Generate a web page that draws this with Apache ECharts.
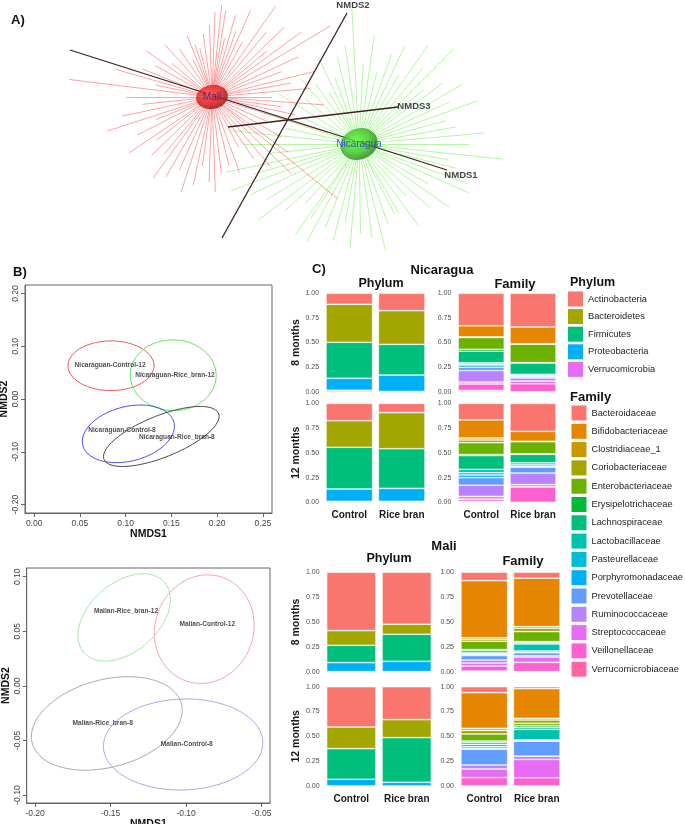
<!DOCTYPE html>
<html><head><meta charset="utf-8">
<script src="https://cdn.jsdelivr.net/npm/echarts@6/dist/echarts.min.js"></script>
<style>html,body{margin:0;padding:0;background:#fff}#c{width:685px;height:824px}</style>
</head><body><div id="c"></div>
<script>
// ================= DATA =================
// Panel A: 3D NMDS star plot (projected coordinates; spokes = [angle deg, length x100])
const maliCenter = [-1.305, 0.28];
const nicCenter = [0.165, -0.19];
const maliSpokes = [[173,144],[180,86],[192,92],[207,84],[224,84],[240,92],[252,100],[277,77],[298,57],[321,161],[324,94],[343,121],[81,88],[74,85],[61,63],[44,100],[31,138],[20,74],[5,98],[356,112],[117,42],[151,65],[108,55],
 [0,60],[10,80],[14,105],[25,95],[36,110],[40,72],[50,85],[55,110],[66,95],[70,70],[78,60],[84,92],[88,85],[92,72],[98,64],[104,50],[112,66],[124,58],[132,70],[140,52],[145,80],[158,75],[164,100],[168,58],[186,70],[198,110],[202,60],[214,100],[218,70],[230,75],[234,100],[246,80],[258,90],[262,70],[268,85],[272,95],[284,70],[290,80],[304,75],[310,90],[316,110],[330,80],[336,60],[348,85],[352,70]];
const nicSpokes = [[93,136],[104,90],[76,74],[65,107],[45,135],[36,104],[20,126],[10,99],[354,145],[340,116],[300,80],[271,89],[265,104],[235,111],[217,127],[200,136],[192,136],[174,129],[126,74],[237,89],[297,78],[211,109],
 [0,110],[5,125],[15,90],[25,100],[30,120],[40,85],[50,100],[55,120],[60,80],[70,95],[82,110],[87,80],[98,100],[110,70],[115,95],[120,60],[132,88],[140,70],[148,95],[155,60],[162,100],[168,75],[180,115],[186,90],[196,110],[205,120],[222,100],[228,80],[242,110],[248,90],[255,100],[260,80],[278,95],[284,110],[290,85],[306,100],[312,70],[318,95],[325,110],[330,80],[336,120],[346,100],[350,90]];
const nmdsAxisNames = ['NMDS1','NMDS2','NMDS3'];
const nmdsAxisFrom = [[-2.725,0.75],[-1.205,-1.13],[-1.145,-0.02]];
const nmdsAxisTo = [[1.045,-0.45],[0.045,1.12],[0.555,0.18]];
const nmdsLabelPos = [[1.185,-0.50],[0.105,1.20],[0.715,0.19]];

// Panel B: ordination ellipses [cx, cy], conjugate semi-axes u, v
const nicEllNames = ['Nicaraguan-Control-12','Nicaraguan-Rice_bran-12','Nicaraguan-Control-8','Nicaraguan-Rice_bran-8'];
const nicEllCenter = [[0.084,0.063],[0.152,0.045],[0.103,-0.066],[0.139,-0.071]];
const nicEllU = [[0.047,0],[0.047,-0.002],[0.050,0.008],[0.060,0.023]];
const nicEllV = [[0,0.047],[0.001,0.067],[0.006,0.054],[0.020,0.052]];
const nicLabelPos = [[0.083,0.065],[0.154,0.046],[0.096,-0.060],[0.156,-0.073]];
const maliEllNames = ['Malian-Rice_bran-12','Malian-Control-12','Malian-Rice_bran-8','Malian-Control-8'];
const maliEllCenter = [[-0.141,0.0627],[-0.088,0.052],[-0.1525,-0.0344],[-0.102,-0.0537]];
const maliEllU = [[0.030,0.009],[0.033,0.002],[0.0497,0.0084],[0.0527,0]];
const maliEllV = [[0.006,0.039],[0.001,0.0497],[0.0045,0.042],[0.002,0.0417]];
const maliLabelPos = [[-0.1398,0.068],[-0.086,0.0567],[-0.1552,-0.034],[-0.0996,-0.0533]];
const nicXTicks = [0,0.05,0.10,0.15,0.20,0.25];
const nicYTicks = [-0.2,-0.1,0,0.1,0.2];
const maliXTicks = [-0.20,-0.15,-0.10,-0.05];
const maliYTicks = [-0.10,-0.05,0,0.05,0.10];

// Panel C: relative abundances
const groups = ['Control','Rice bran'];
const fracTicks = [0,0.25,0.5,0.75,1];
const phyla = ['Actinobacteria','Bacteroidetes','Firmicutes','Proteobacteria','Verrucomicrobia'];
const families = ['Bacteroidaceae','Bifidobacteriaceae','Clostridiaceae_1','Coriobacteriaceae','Enterobacteriaceae','Erysipelotrichaceae','Lachnospiraceae','Lactobacillaceae','Pasteurellaceae','Porphyromonadaceae','Prevotellaceae','Ruminococcaceae','Streptococcaceae','Veillonellaceae','Verrucomicrobiaceae'];
const nicPhy8Control = [0.112,0.386,0.366,0.121,0.015];
const nicPhy8Rice = [0.176,0.343,0.312,0.167,0.002];
const nicPhy12Control = [0.175,0.269,0.421,0.125,0.010];
const nicPhy12Rice = [0.094,0.364,0.401,0.131,0.010];
const maliPhy8Control = [0.587,0.148,0.174,0.091,0.000];
const maliPhy8Rice = [0.523,0.101,0.272,0.104,0.000];
const maliPhy12Control = [0.406,0.218,0.309,0.067,0.000];
const maliPhy12Rice = [0.332,0.181,0.450,0.037,0.000];
const nicFam8Control = [0.330,0.113,0.003,0.003,0.120,0.020,0.117,0.013,0.010,0.023,0.033,0.117,0.020,0.065,0.013];
const nicFam8Rice = [0.342,0.170,0.000,0.005,0.187,0.005,0.115,0.013,0.000,0.010,0.013,0.033,0.027,0.080,0.000];
const nicFam12Control = [0.167,0.183,0.020,0.027,0.120,0.010,0.140,0.033,0.023,0.027,0.077,0.113,0.027,0.023,0.010];
const nicFam12Rice = [0.283,0.100,0.000,0.005,0.122,0.005,0.085,0.017,0.017,0.010,0.060,0.117,0.023,0.156,0.000];
const maliFam8Control = [0.084,0.575,0.015,0.020,0.084,0.010,0.023,0.012,0.005,0.010,0.045,0.030,0.030,0.052,0.005];
const maliFam8Rice = [0.060,0.487,0.017,0.033,0.101,0.010,0.013,0.071,0.013,0.005,0.030,0.013,0.054,0.093,0.000];
const maliFam12Control = [0.060,0.360,0.020,0.037,0.070,0.013,0.021,0.023,0.017,0.010,0.158,0.040,0.087,0.084,0.000];
const maliFam12Rice = [0.020,0.299,0.017,0.033,0.024,0.017,0.020,0.107,0.007,0.005,0.151,0.033,0.185,0.082,0.000];

// ================= STYLE =================
const FF = '"Liberation Sans", Arial, Helvetica, sans-serif';
const phylumColors = ['#F8766D','#A3A500','#00BF7D','#00B0F6','#E76BF3'];
const familyColors = ['#F8766D','#E58700','#C99800','#A3A500','#6BB100','#00BA38','#00BF7D','#00C0AF','#00BCD8','#00B0F6','#619CFF','#B983FF','#E76BF3','#FD61D1','#FF67A4'];
const nicEllColors = ['#f25555','#5fe35f','#4d4df0','#4a4a4a'];
const maliEllColors = ['#a8e6a8','#f4a6a6','#a9a9a9','#a9a9f2'];

// ================= BUILD =================
const grids = [], xAxes = [], yAxes = [], series = [], graphics = [];
function addGrid(g){ grids.push(Object.assign({outerBoundsMode:'none', containLabel:false}, g)); return grids.length-1; }

// ---- Panel A ----
const gA = addGrid({left:0, top:0, width:685, height:250, show:false});
xAxes.push({gridIndex:gA, type:'value', min:-3.425, max:3.425, show:false});
yAxes.push({gridIndex:gA, type:'value', min:-1.25, max:1.25, show:false});
const spokeEnd = (c, s) => { const a = s[0]*Math.PI/180, r = s[1]/100; return [c[0]+r*Math.cos(a), c[1]+r*Math.sin(a)]; };
series.push({type:'lines', coordinateSystem:'cartesian2d', xAxisIndex:gA, yAxisIndex:gA, silent:true, z:2,
  lineStyle:{color:'#6cf04a', width:0.8, opacity:0.65, curveness:0},
  data: nicSpokes.map(s => ({coords:[nicCenter, spokeEnd(nicCenter, s)]}))});
series.push({type:'lines', coordinateSystem:'cartesian2d', xAxisIndex:gA, yAxisIndex:gA, silent:true, z:3,
  lineStyle:{color:'#ff3a3a', width:0.8, opacity:0.6, curveness:0},
  data: maliSpokes.map(s => ({coords:[maliCenter, spokeEnd(maliCenter, s)]}))});
nmdsAxisNames.forEach((n,i) => {
  series.push({type:'line', xAxisIndex:gA, yAxisIndex:gA, showSymbol:false, silent:true, z:4,
    lineStyle:{color:'#3b2222', width:1.3}, data:[nmdsAxisFrom[i], nmdsAxisTo[i]]});
});
series.push({type:'scatter', xAxisIndex:gA, yAxisIndex:gA, symbolSize:0, silent:true, z:6,
  label:{show:true, position:'inside', formatter:p=>p.name, fontFamily:FF, fontSize:9.5, fontWeight:'bold', color:'#111'},
  data: nmdsAxisNames.map((n,i)=>({name:n, value:nmdsLabelPos[i]}))});
series.push({type:'scatter', xAxisIndex:gA, yAxisIndex:gA, silent:true, z:5,
  label:{show:true, position:'inside', formatter:p=>p.name, fontFamily:FF, fontSize:10},
  data:[
    {name:'Mali', value:maliCenter, symbolSize:[32,24], symbolRotate:10,
      itemStyle:{color:{type:'radial', x:0.45, y:0.4, r:0.6, colorStops:[{offset:0,color:'#ff5a5a'},{offset:0.6,color:'#dd2222'},{offset:1,color:'#8c1313'}]}},
      label:{color:'#22228a'}},
    {name:'Nicaragua', value:nicCenter, symbolSize:[38,31], symbolRotate:20,
      itemStyle:{color:{type:'radial', x:0.45, y:0.4, r:0.6, colorStops:[{offset:0,color:'#6dff4a'},{offset:0.6,color:'#3fc52a'},{offset:1,color:'#2e7a22'}]}},
      label:{color:'#2a2aee'}}
  ]});

// ---- Panel B ----
function ellipsePts(c,u,v){ const pts=[]; for(let k=0;k<=120;k++){ const t=k/120*2*Math.PI; pts.push([c[0]+u[0]*Math.cos(t)+v[0]*Math.sin(t), c[1]+u[1]*Math.cos(t)+v[1]*Math.sin(t)]); } return pts; }
function rAxis(gi, isX, min, max, ticks, name, nameGap){
  return {gridIndex:gi, type:'value', min:min, max:max, name:name, nameLocation:'middle', nameGap:nameGap,
    nameRotate: isX?0:90,
    nameTextStyle:{fontFamily:FF, fontSize:10.5, fontWeight:'bold', color:'#111'},
    axisLine:{show:true, onZero:false, lineStyle:{color:'#666', width:1}},
    axisTick:{show:true, inside:false, length:4, customValues:ticks, lineStyle:{color:'#666'}},
    axisLabel:{show:true, customValues:ticks, rotate: isX?0:90, margin: isX?6:5, formatter:v=>Number(v).toFixed(2), fontFamily:FF, fontSize:8.5, color:'#444'},
    splitLine:{show:false}};
}
function addOrd(gridPos, xr, yr, xt, yt, names, centers, us, vs, labelPos, colors){
  const gi = addGrid(Object.assign({show:true, borderColor:'#666', borderWidth:1}, gridPos));
  xAxes.push(rAxis(gi, true, xr[0], xr[1], xt, 'NMDS1', 14));
  yAxes.push(rAxis(gi, false, yr[0], yr[1], yt, 'NMDS2', 10));
  names.forEach((n,i)=>{
    series.push({type:'line', xAxisIndex:gi, yAxisIndex:gi, showSymbol:false, silent:true, smooth:false,
      lineStyle:{color:colors[i], width:1}, data:ellipsePts(centers[i], us[i], vs[i])});
  });
  series.push({type:'scatter', xAxisIndex:gi, yAxisIndex:gi, symbolSize:0, silent:true, z:5,
    label:{show:true, position:'inside', formatter:p=>p.name, fontFamily:FF, fontSize:6.6, fontWeight:'bold', color:'#222'},
    data: names.map((n,i)=>({name:n, value:labelPos[i]}))});
}
addOrd({left:25, top:285, width:247, height:228}, [-0.01,0.26], [-0.216,0.216], nicXTicks, nicYTicks,
  nicEllNames, nicEllCenter, nicEllU, nicEllV, nicLabelPos, nicEllColors);
addOrd({left:26.7, top:568, width:243.3, height:235}, [-0.2055,-0.0445], [-0.1073,0.108], maliXTicks, maliYTicks,
  maliEllNames, maliEllCenter, maliEllU, maliEllV, maliLabelPos, maliEllColors);

// ---- Panel C ----
function addBars(gridPos, ctrl, rice, names, colors, showX, rowName){
  const gi = addGrid(Object.assign({show:false}, gridPos));
  xAxes.push({gridIndex:gi, type:'category', data:groups, axisLine:{show:false}, axisTick:{show:false}, splitLine:{show:false},
    axisLabel:{show:showX, margin:3, fontFamily:FF, fontSize:10, fontWeight:'bold', color:'#1a1a1a', interval:0}});
  yAxes.push({gridIndex:gi, type:'value', min:-0.05, max:1.05, axisLine:{show:false}, axisTick:{show:false}, splitLine:{show:false},
    name: rowName || '', nameLocation:'middle', nameRotate:90, nameGap:20,
    nameTextStyle:{fontFamily:FF, fontSize:10.5, fontWeight:'bold', color:'#1a1a1a'},
    axisLabel:{show:true, customValues:fracTicks, margin:4, formatter:v=>Number(v).toFixed(2), fontFamily:FF, fontSize:7, color:'#4d4d4d'}});
  for (let i = names.length-1; i >= 0; i--) {
    series.push({type:'bar', name:names[i], xAxisIndex:gi, yAxisIndex:gi, stack:'s'+gi, barWidth:'89%', silent:true,
      itemStyle:{color:colors[i], borderColor:'#ffffff', borderWidth:0.6}, data:[ctrl[i], rice[i]]});
  }
}
// Nicaragua
addBars({left:323.1, top:288.4, width:104.8, height:108.2}, nicPhy8Control, nicPhy8Rice, phyla, phylumColors, false, '8 months');
addBars({left:323.1, top:398.4, width:104.8, height:108.9}, nicPhy12Control, nicPhy12Rice, phyla, phylumColors, true, '12 months');
addBars({left:455.3, top:288.4, width:103.6, height:108.2}, nicFam8Control, nicFam8Rice, families, familyColors, false);
addBars({left:455.3, top:398.4, width:103.6, height:108.9}, nicFam12Control, nicFam12Rice, families, familyColors, true);
// Mali
addBars({left:323.6, top:567.3, width:110.8, height:109.3}, maliPhy8Control, maliPhy8Rice, phyla, phylumColors, false, '8 months');
addBars({left:323.6, top:681.7, width:110.8, height:109.2}, maliPhy12Control, maliPhy12Rice, phyla, phylumColors, true, '12 months');
addBars({left:458, top:567.3, width:105, height:109.3}, maliFam8Control, maliFam8Rice, families, familyColors, false);
addBars({left:458, top:681.7, width:105, height:109.2}, maliFam12Control, maliFam12Rice, families, familyColors, true);

// ---- free texts ----
function txt(t, x, y, size, bold, align){
  graphics.push({type:'text', x:x, y:y, silent:true, z:10,
    style:{text:t, fontFamily:FF, fontSize:size, fontWeight:bold?'bold':'normal', fill:'#111', align:align||'center', verticalAlign:'middle'}});
}
txt('A)', 11, 20, 13, true, 'left');
txt('B)', 13, 272, 13, true, 'left');
txt('C)', 312, 269, 13, true, 'left');
txt('Nicaragua', 442, 270, 13, true);
txt('Phylum', 381, 284, 12.5, true);
txt('Family', 515, 284, 13, true);
txt('Mali', 444, 546, 13, true);
txt('Phylum', 389, 559, 12.5, true);
txt('Family', 523, 561, 13, true);
txt('Phylum', 570, 283, 12.5, true, 'left');
txt('Family', 570, 397, 13, true, 'left');

const option = {
  animation:false,
  backgroundColor:'#ffffff',
  grid:grids, xAxis:xAxes, yAxis:yAxes, series:series, graphic:graphics,
  legend:[
    {data:phyla, orient:'vertical', left:568, top:291.5, itemWidth:15, itemHeight:15, itemGap:2.6, icon:'rect', selectedMode:false, padding:0,
      itemStyle:{borderWidth:0}, textStyle:{fontFamily:FF, fontSize:9.3, color:'#222'}},
    {data:families, orient:'vertical', left:571.5, top:405.5, itemWidth:15, itemHeight:15, itemGap:3.3, icon:'rect', selectedMode:false, padding:0,
      itemStyle:{borderWidth:0}, textStyle:{fontFamily:FF, fontSize:9.3, color:'#222'}}
  ]
};
const chart = echarts.init(document.getElementById('c'));
chart.setOption(option);
</script></body></html>
